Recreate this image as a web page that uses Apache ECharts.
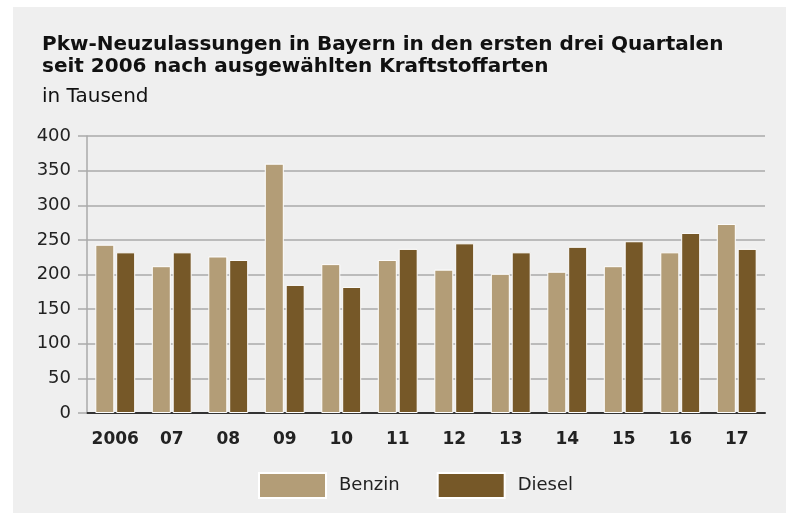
<!DOCTYPE html>
<html lang="de">
<head>
    <meta charset="utf-8">
    <title>Pkw-Neuzulassungen in Bayern</title>
    <script src="https://cdn.jsdelivr.net/npm/echarts@6/dist/echarts.min.js"></script>
    <style>
        body { margin: 0; background: #fff; }
        #panel { position: absolute; left: 13px; top: 7px; width: 773px; height: 506px; background: #efefef; }
        #main { position: absolute; left: 0; top: 0; width: 786px; height: 513px; }
    </style>
</head>
<body>
<div id="panel"></div>
<div id="main"></div>

<script type="text/javascript">
    // Daten (in Tausend)
    var years = ['2006', '07', '08', '09', '10', '11', '12', '13', '14', '15', '16', '17'];
    var benzin = [243, 212, 226, 360, 215, 221, 207, 201, 204, 212, 232, 273];
    var diesel = [232, 232, 221, 185, 182, 237, 245, 232, 240, 248, 260, 237];
    var yTicks = [0, 50, 100, 150, 200, 250, 300, 350, 400];

    var font = '"DejaVu Sans", "Liberation Sans", Arial, sans-serif';
    var myChart = echarts.init(document.getElementById('main'));

    myChart.setOption({
        backgroundColor: 'transparent',
        animation: false,
        title: [{
            text: 'Pkw-Neuzulassungen in Bayern in den ersten drei Quartalen\nseit 2006 nach ausgewählten Kraftstoffarten',
            left: 37,
            top: 29,
            textStyle: { fontFamily: font, fontSize: 20, fontWeight: 'bold', color: '#111', lineHeight: 22 }
        }, {
            text: 'in Tausend',
            left: 37,
            top: 82,
            textStyle: { fontFamily: font, fontSize: 20, fontWeight: 'normal', color: '#111' }
        }],
        legend: {
            data: ['Benzin', 'Diesel'],
            left: 258,
            top: 472,
            padding: 0,
            icon: 'rect',
            itemWidth: 67,
            itemHeight: 25,
            itemGap: 37,
            textStyle: { fontFamily: font, fontSize: 18, color: '#222', padding: [0, 0, 0, 8] }
        },
        grid: { left: 87, right: 21, top: 136, bottom: 100 },
        xAxis: {
            type: 'category',
            data: years,
            axisLine: { lineStyle: { color: '#333', width: 2 } },
            axisTick: { show: false },
            axisLabel: { interval: 0, fontFamily: font, fontSize: 17, fontWeight: 'bold', color: '#222', margin: 18 }
        },
        yAxis: {
            type: 'value',
            min: yTicks[0],
            max: yTicks[yTicks.length - 1],
            interval: 50,
            axisLine: { show: true, lineStyle: { color: '#aaa', width: 1.5 } },
            axisTick: { show: true, length: 9, lineStyle: { color: '#aaa', width: 1.5 } },
            splitLine: { lineStyle: { color: '#aaa', width: 1.5 } },
            axisLabel: { fontFamily: font, fontSize: 18, color: '#222', margin: 16 }
        },
        series: [{
            name: 'Benzin',
            type: 'bar',
            data: benzin,
            barWidth: 19,
            barGap: '10%',
            itemStyle: { color: '#b39d77', borderColor: '#fff', borderWidth: 1 }
        }, {
            name: 'Diesel',
            type: 'bar',
            data: diesel,
            barWidth: 19,
            itemStyle: { color: '#765828', borderColor: '#fff', borderWidth: 1 }
        }]
    });
</script>
</body>
</html>
